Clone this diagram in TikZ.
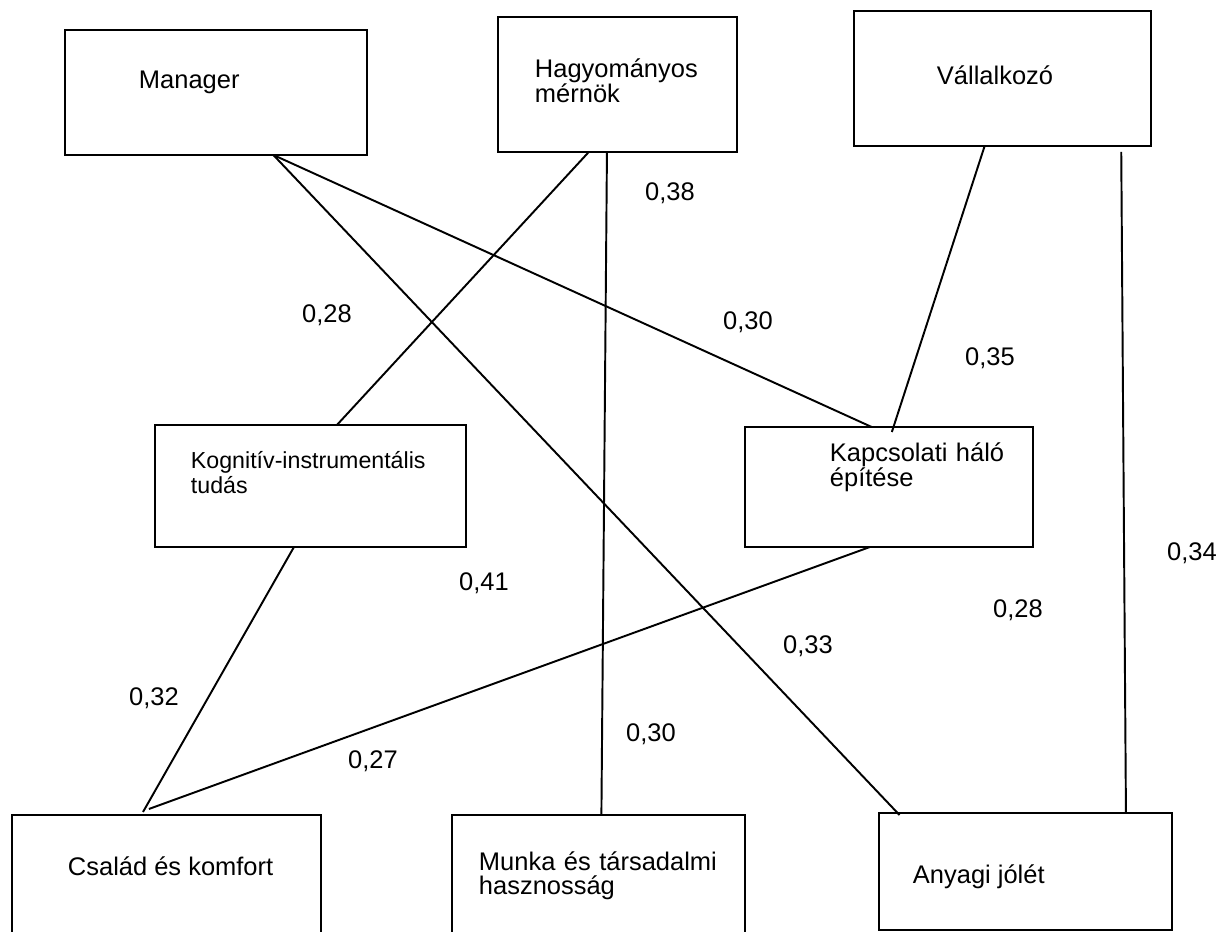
\documentclass[tikz,border=0pt]{standalone}
\usepackage{fontspec}
\setmainfont{Liberation Sans}
\usetikzlibrary{calc}

\begin{document}
\begin{tikzpicture}[x=0.02cm, y=-0.02cm, line width=1.1pt, font=\fontsize{14.5}{14.2}\selectfont]
        \tikzstyle{box}=[draw, rectangle, anchor=north west, inner sep=0pt, outer sep=0pt]
        \tikzstyle{txt}=[anchor=base west, inner sep=0pt, align=left]
        \tikzstyle{num}=[inner sep=0pt]
        \useasboundingbox (0,0) rectangle (1228,932);
        \clip (0,0) rectangle (1228,932);
        \node[box, minimum width=6.04cm, minimum height=2.5cm] (mgr) at (65,30) {};
        \node[box, minimum width=4.78cm, minimum height=2.7cm] (hagy) at (498,17) {};
        \node[box, minimum width=5.94cm, minimum height=2.7cm] (vall) at (854,11) {};
        \node[box, minimum width=6.22cm, minimum height=2.44cm] (kogn) at (155,425) {};
        \node[box, minimum width=5.76cm, minimum height=2.4cm] (kapcs) at (745,427) {};
        \node[box, minimum width=6.18cm, minimum height=2.8cm] (csal) at (12,815) {};
        \node[box, minimum width=5.86cm, minimum height=2.8cm] (munka) at (452,815) {};
        \node[box, minimum width=5.86cm, minimum height=2.34cm] (anyagi) at (879,813) {};
        \node[txt] (mgrt) at (138,89) {Manager};
        \node[txt, text width=4cm] (hagyt) at (534,78) {Hagyományos\\mérnök};
        \node[txt] (vallt) at (936,85) {Vállalkozó};
        \node[txt, text width=5.6cm, font=\fontsize{13.2}{14.2}\selectfont] (kognt) at (190,469) {Kognitív-instrumentális\\tudás};
        \node[txt, text width=4cm] (kapcst) at (829,462) {Kapcsolati háló\\építése};
        \node[txt] (csalt) at (67,875) {Család és komfort};
        \node[txt, text width=5cm] (munkat) at (478,870) {Munka és társadalmi\\hasznosság};
        \node[txt] (anyagit) at (912,883) {Anyagi jólét};
        \draw ($(mgr.south west)!.69!(mgr.south east)$) -- ($(kapcs.north west)!.44!(kapcs.north east)$);
        \draw ($(mgr.south west)!.69!(mgr.south east)$) -- ($(anyagi.north west)!.07!(anyagi.north east)+(0,2)$);
        \draw ($(hagy.south west)!.38!(hagy.south east)$) -- ($(kogn.north west)!.585!(kogn.north east)$);
        \draw ($(hagy.south west)!.456!(hagy.south east)$) -- ($(munka.north west)!.51!(munka.north east)$);
        \draw ($(vall.south west)!.44!(vall.south east)$) -- ($(kapcs.north west)!.51!(kapcs.north east)+(0,5)$);
        \draw ($(vall.south west)!.9!(vall.south east)+(0,6)$) -- ($(anyagi.north west)!.843!(anyagi.north east)$);
        \draw ($(kogn.south west)!.447!(kogn.south east)$) -- ($(csal.north west)!.424!(csal.north east)+(0,-3)$);
        \draw ($(kapcs.south west)!.434!(kapcs.south east)$) -- ($(csal.north west)!.443!(csal.north east)+(0,-6)$);
        \node[num] (n1) at (670,193) {0,38};
        \node[num] (n2) at (327,315) {0,28};
        \node[num] (n3) at (748,322) {0,30};
        \node[num] (n4) at (990,358) {0,35};
        \node[num] (n5) at (484,583) {0,41};
        \node[num] (n6) at (1192,553) {0,34};
        \node[num] (n7) at (1018,610) {0,28};
        \node[num] (n8) at (808,646) {0,33};
        \node[num] (n9) at (154,698) {0,32};
        \node[num] (n10) at (651,734) {0,30};
        \node[num] (n11) at (373,761) {0,27};
    \end{tikzpicture}
\end{document}
